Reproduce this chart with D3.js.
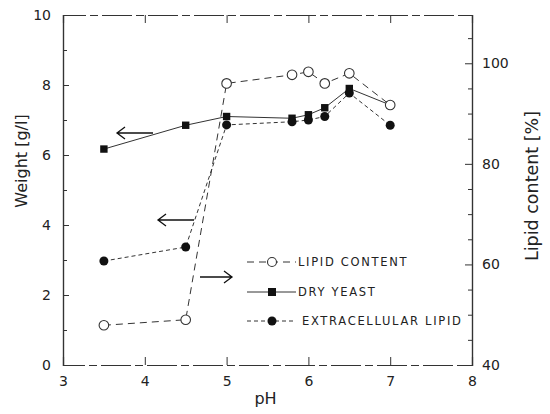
<!DOCTYPE html>
<html lang="en">
<head>
<meta charset="UTF-8">
<title>pH chart</title>
<style>
body{margin:0;background:#fff;}
text{font-family:"DejaVu Sans",sans-serif;fill:#222;}
</style>
</head>
<body>
<svg width="550" height="414"></svg>
<script src="https://d3js.org/d3.v7.min.js"></script>
<script>
// data
var phLipid=[3.5,4.5,5,5.8,6,6.2,6.5,7];
var lipidContent=[47.9,49,96,97.7,98.3,96,98,91.7];   // % (right axis)
var phYeast=[3.5,4.5,5,5.8,6,6.2,6.5,7];
var dryYeast=[6.17,6.85,7.1,7.05,7.15,7.35,7.9,7.43];  // g/l
var phExtra=[3.5,4.5,5,5.8,6,6.2,6.5,7];
var extraLipid=[2.97,3.37,6.86,6.95,7.0,7.1,7.77,6.85]; // g/l
var xTicks=[3,4,5,6,7,8];
var yTicks=[0,2,4,6,8,10];
var y2Ticks=[40,60,80,100];
var legendNames=["LIPID CONTENT","DRY YEAST","EXTRACELLULAR LIPID"];

var svg=d3.select("svg");
var pL=63,pR=472,pT=15,pB=365;

var x=d3.scaleLinear().domain([3,8]).range([pL,pR]);
var y=d3.scaleLinear().domain([0,10]).range([pB,pT]);
var y2=d3.scaleLinear().domain([40,109.6]).range([pB,pT]);

var ink="#333";

// frame + inward ticks
var gx=svg.append("g").attr("transform","translate(0,"+pB+")")
	.call(d3.axisBottom(x).tickValues(xTicks).tickSize(-8).tickPadding(11).tickFormat(d3.format("d")));
var gt=svg.append("g").attr("transform","translate(0,"+pT+")")
	.call(d3.axisTop(x).tickValues(xTicks).tickSize(-8).tickFormat(""));
var gy=svg.append("g").attr("transform","translate("+pL+",0)")
	.call(d3.axisLeft(y).tickValues(yTicks).tickSize(-6).tickPadding(12).tickFormat(d3.format("d")));
var gym=svg.append("g").attr("transform","translate("+pL+",0)")
	.call(d3.axisLeft(y).tickValues(d3.range(1,10,2)).tickSize(-4).tickFormat(""));
var gr=svg.append("g").attr("transform","translate("+pR+",0)")
	.call(d3.axisRight(y2).tickValues(y2Ticks).tickSize(-7).tickPadding(10).tickFormat(d3.format("d")));
var grm=svg.append("g").attr("transform","translate("+pR+",0)")
	.call(d3.axisRight(y2).tickValues(d3.range(45,110,5).filter(function(v){return v%20!=0;})).tickSize(-4).tickFormat(""));

svg.selectAll(".domain").attr("stroke",ink).attr("stroke-width",1.2);
svg.selectAll(".tick line").attr("stroke",ink);
svg.selectAll(".tick text").style("font-size","14px").attr("fill","#222");
gx.selectAll(".domain").attr("stroke-dasharray","30,4,8,4");
gt.selectAll(".domain").attr("stroke-dasharray","30,4,8,4");
gx.selectAll(".tick line").filter(function(d){return d==3||d==8;}).remove();
gt.selectAll(".tick line").filter(function(d){return d==3||d==8;}).remove();

// axis titles
svg.append("text").attr("transform","translate(27,161) rotate(-90)")
	.attr("text-anchor","middle").style("font-size","16px").text("Weight [g/l]");
svg.append("text").attr("transform","translate(538,186) rotate(-90)")
	.attr("text-anchor","middle").style("font-size","17.5px").text("Lipid content [%]");
svg.append("text").attr("x",(pL+pR)/2-2).attr("y",404)
	.attr("text-anchor","middle").style("font-size","16px").text("pH");

// series
function series(xs,ys,sc,dash){
	var line=d3.line().x(function(d,i){return x(xs[i]);}).y(function(d){return sc(d);});
	svg.append("path").datum(ys).attr("d",line).attr("fill","none")
		.attr("stroke",ink).attr("stroke-width",1).attr("stroke-dasharray",dash);
}
series(phLipid,lipidContent,y2,"7,5");
series(phExtra,extraLipid,y,"4,3");
series(phYeast,dryYeast,y,null);

svg.selectAll(".sq").data(dryYeast).enter().append("rect")
	.attr("x",function(d,i){return x(phYeast[i])-3.7;}).attr("y",function(d){return y(d)-3.7;})
	.attr("width",7.4).attr("height",7.4).attr("fill","#111");
svg.selectAll(".fc").data(extraLipid).enter().append("circle")
	.attr("cx",function(d,i){return x(phExtra[i]);}).attr("cy",function(d){return y(d);})
	.attr("r",4.5).attr("fill","#111");
svg.selectAll(".oc").data(lipidContent).enter().append("circle")
	.attr("cx",function(d,i){return x(phLipid[i]);}).attr("cy",function(d){return y2(d);})
	.attr("r",4.8).attr("fill","#fff").attr("stroke",ink).attr("stroke-width",1.1);

// arrows pointing to the axis each series belongs to
function arrow(x1,x2,yy){
	var dir=x2>x1?-1:1;
	svg.append("path").attr("d","M"+x1+","+yy+"H"+x2+"M"+(x2+dir*8)+","+(yy-6)+"L"+x2+","+yy+"L"+(x2+dir*8)+","+(yy+6))
		.attr("fill","none").attr("stroke","#111").attr("stroke-width",1.3);
}
arrow(153,117,133);
arrow(194,158,220);
arrow(200,232,277);

// legend
var lg=svg.append("g");
var rows=[262,292,321];
var dashes=["7,5",null,"4,3"];
lg.selectAll("path").data(rows).enter().append("path")
	.attr("d",function(d){return "M247,"+d+"H296";})
	.attr("stroke",ink).attr("stroke-width",1).attr("stroke-dasharray",function(d,i){return dashes[i];});
lg.append("circle").attr("cx",272).attr("cy",rows[0]).attr("r",4.5).attr("fill","#fff").attr("stroke",ink).attr("stroke-width",1.1);
lg.append("rect").attr("x",268).attr("y",rows[1]-4).attr("width",8).attr("height",8).attr("fill","#111");
lg.append("circle").attr("cx",272).attr("cy",rows[2]).attr("r",4.5).attr("fill","#111");
lg.selectAll("text").data(legendNames).enter().append("text")
	.attr("x",function(d,i){return i==2?302:298;}).attr("y",function(d,i){return rows[i];})
	.attr("dy","0.35em").style("font-size","11.5px").style("letter-spacing","1.7px").text(function(d){return d;});
</script>
</body>
</html>
